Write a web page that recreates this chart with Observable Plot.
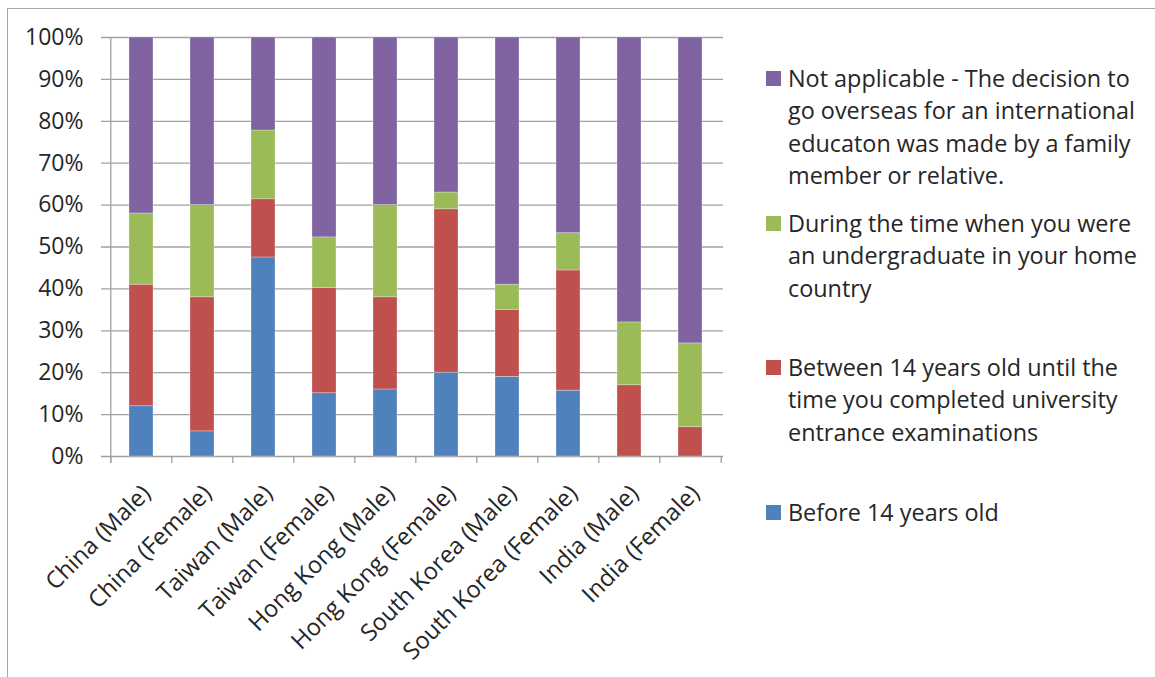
<!DOCTYPE html>
<html><head><meta charset="utf-8">
<script src="https://cdn.jsdelivr.net/npm/d3@7"></script>
<script src="https://cdn.jsdelivr.net/npm/@observablehq/plot@0.6"></script>
<style>
body{margin:0;background:#fff;font-family:"Open Sans",sans-serif;overflow:hidden}
#wrap{position:relative;width:1155px;height:677px;overflow:hidden}
#border{position:absolute;left:7px;top:8px;width:1300px;height:800px;border-left:1.5px solid #a6a6a6;border-top:1.5px solid #a6a6a6}
#chart{position:absolute;left:0;top:0}
.item{position:absolute;left:766px;width:385px;display:flex;align-items:flex-start;font-size:23.4px;line-height:32.3px;color:#262626}
.sw{width:15px;height:15px;margin-top:9px;margin-right:7px;flex:none}
.lt{width:356px}
</style></head><body>
<div id="wrap"><div id="border"></div><div id="chart"></div><div id="legend"></div></div>
<script>
const categories = ["China (Male)","China (Female)","Taiwan (Male)","Taiwan (Female)","Hong Kong (Male)","Hong Kong (Female)","South Korea (Male)","South Korea (Female)","India (Male)","India (Female)"];
const seriesNames = [
  "Before 14 years old",
  "Between 14 years old until the time you completed university entrance examinations",
  "During the time when you were an undergraduate in your home country",
  "Not applicable - The decision to go overseas for an international educaton was made by a family member or relative."
];
const seriesColors = ["#4f81bd","#c0504d","#9bbb59","#8064a2"];
const before14      = [12, 6, 47.5, 15.1, 16, 20, 19, 15.7, 0, 0];
const between14     = [29, 32, 13.9, 25.1, 22, 39, 16, 28.7, 17, 7];
const undergraduate = [17, 22, 16.4, 12.1, 22, 4, 6, 8.9, 15, 20];
const notApplicable = [42, 40, 22.2, 47.7, 40, 37, 59, 46.7, 68, 73];
const yTicks = [0,10,20,30,40,50,60,70,80,90,100];

const seriesValues = [before14, between14, undergraduate, notApplicable];
const data = [];
categories.forEach((c, i) => seriesNames.forEach((s, j) => data.push({cat: c, series: s, value: seriesValues[j][i]})));

const W = 1155, H = 677, ML = 109, MR = 432, MT = 37, MB = 221;
const step = (W - ML - MR) / categories.length;
const gridColor = "#a0a0a0";
const textColor = "#262626";

const chart = Plot.plot({
  width: W, height: H,
  marginLeft: ML, marginRight: MR, marginTop: MT, marginBottom: MB,
  style: {fontFamily: "'Open Sans', sans-serif", fontSize: "22px", color: textColor, background: "transparent", overflow: "visible"},
  x: {domain: categories, paddingInner: 0.6, paddingOuter: 0.3, axis: null},
  y: {domain: [0, 100], axis: null},
  color: {domain: seriesNames, range: seriesColors},
  marks: [
    Plot.ruleY(yTicks, {y: d => d, stroke: gridColor, strokeWidth: 1.3, insetLeft: -8}),
    Plot.barY(data, {x: "cat", y: "value", fill: "series", stroke: "#ffffff", strokeOpacity: 0.35, strokeWidth: 0.8}),
    Plot.ruleX([categories[0]], {x: d => d, dx: -step / 2, y1: 100, y2: 0, insetBottom: -7, stroke: gridColor, strokeWidth: 1.3}),
    Plot.ruleX(categories, {x: d => d, dx: -step / 2, y1: 0, y2: 0, insetBottom: -7, stroke: gridColor, strokeWidth: 1.3}),
    Plot.ruleX([categories[categories.length - 1]], {x: d => d, dx: step / 2, y1: 0, y2: 0, insetBottom: -7, stroke: gridColor, strokeWidth: 1.3}),
    Plot.text(yTicks, {y: d => d, text: d => d + "%", frameAnchor: "left", textAnchor: "end", dx: -26, fill: textColor, fontSize: 23}),
    Plot.text(categories, {x: d => d, y: 0, text: d => d, rotate: -45, textAnchor: "end", lineAnchor: "middle", dx: 5, dy: 33, fill: textColor, fontSize: 23.6})
  ]
});
document.getElementById("chart").appendChild(chart);

const legend = document.getElementById("legend");
const legendTops = [62, 207, 351, 496];
seriesNames.slice().reverse().forEach((s, k) => {
  const j = seriesNames.length - 1 - k;
  const item = document.createElement("div");
  item.className = "item";
  item.style.top = legendTops[k] + "px";
  item.innerHTML = `<div class="sw" style="background:${seriesColors[j]}"></div><div class="lt"></div>`;
  item.querySelector(".lt").textContent = s;
  legend.appendChild(item);
});
</script>
</body></html>
